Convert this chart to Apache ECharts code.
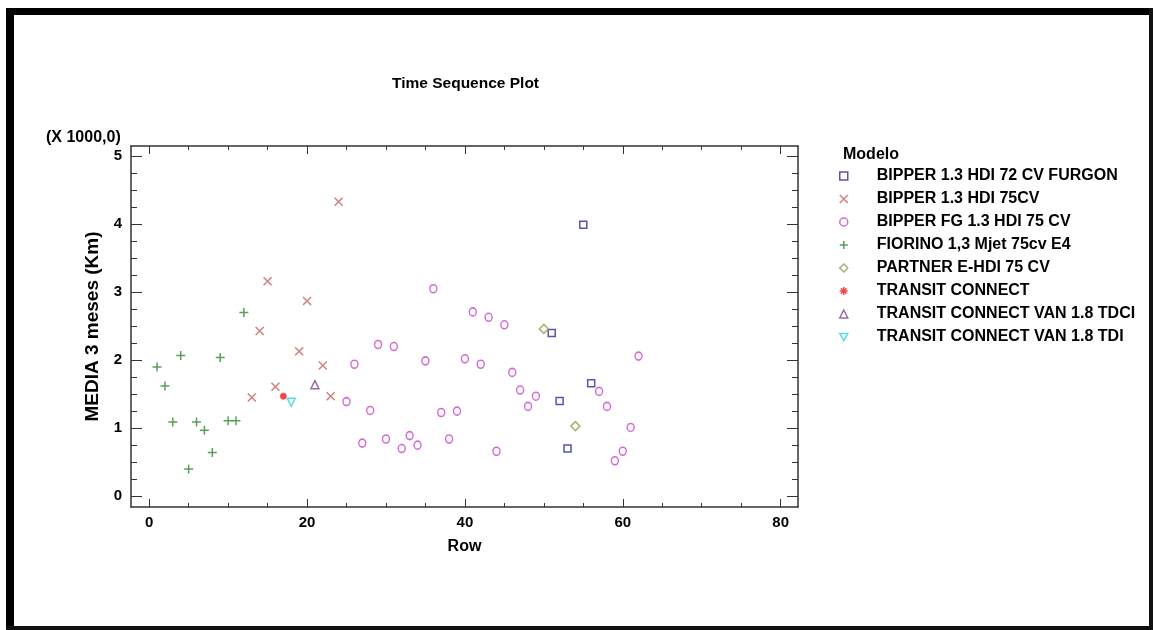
<!DOCTYPE html>
<html>
<head>
<meta charset="utf-8">
<script src="https://cdn.jsdelivr.net/npm/echarts@6/dist/echarts.min.js"></script>
<style>
html,body{margin:0;padding:0;background:#fff;}
#chart{width:1153px;height:630px;}
</style>
</head>
<body>
<div id="chart"></div>
<script>
// ---- data (values in thousands of km, as the axis shows "(X 1000,0)") ----
const seriesNames = [
  'BIPPER 1.3 HDI 72 CV FURGON',
  'BIPPER 1.3 HDI 75CV',
  'BIPPER FG 1.3 HDI 75 CV',
  'FIORINO 1,3 Mjet 75cv E4',
  'PARTNER E-HDI 75 CV',
  'TRANSIT CONNECT',
  'TRANSIT CONNECT VAN 1.8 TDCI',
  'TRANSIT CONNECT VAN 1.8 TDI'
];
const furgonRows = [51, 52, 53, 55, 56];
const furgonVals = [2.40, 1.40, 0.70, 3.99, 1.66];
const bipper75Rows = [13, 14, 15, 16, 19, 20, 22, 23, 24];
const bipper75Vals = [1.45, 2.43, 3.16, 1.61, 2.13, 2.87, 1.92, 1.47, 4.33];
const fgRows = [25, 26, 27, 28, 29, 30, 31, 32, 33, 34, 35, 36, 37, 38, 39, 40, 41, 42, 43, 44, 45, 46, 47, 48, 49, 57, 58, 59, 60, 61, 62];
const fgVals = [1.39, 1.94, 0.78, 1.26, 2.23, 0.84, 2.20, 0.70, 0.89, 0.75, 1.99, 3.05, 1.23, 0.84, 1.25, 2.02, 2.71, 1.94, 2.63, 0.66, 2.52, 1.82, 1.56, 1.32, 1.47, 1.54, 1.32, 0.52, 0.66, 1.01, 2.06];
const fiorinoRows = [1, 2, 3, 4, 5, 6, 7, 8, 9, 10, 11, 12];
const fiorinoVals = [1.90, 1.62, 1.09, 2.07, 0.40, 1.09, 0.97, 0.64, 2.04, 1.11, 1.11, 2.70];
const partnerRows = [50, 54];
const partnerVals = [2.46, 1.03];
const transitRows = [17];
const transitVals = [1.47];
const tdciRows = [21];
const tdciVals = [1.64];
const tdiRows = [18];
const tdiVals = [1.38];

const xMajorTicks = [0, 20, 40, 60, 80];
const xMinorTicks = [5, 10, 15, 25, 30, 35, 45, 50, 55, 65, 70, 75];
const yMajorTicks = [0, 1, 2, 3, 4, 5];
const yMinorTicks = [0.25, 0.5, 0.75, 1.25, 1.5, 1.75, 2.25, 2.5, 2.75, 3.25, 3.5, 3.75, 4.25, 4.5, 4.75];

// ---- styling ----
const FONT = '"Liberation Sans", Arial, sans-serif';
const AX = '#333';
function pts(rows, vals) { return rows.map((r, i) => [r, vals[i]]); }

const styles = [
  { data: pts(furgonRows, furgonVals), symbol: 'rect', size: 7, color: '#2b2ba3' },
  { data: pts(bipper75Rows, bipper75Vals), symbol: 'path://M0,0L10,10M10,0L0,10', size: 8, color: '#c4605f' },
  { data: pts(fgRows, fgVals), symbol: 'circle', size: [7, 8], color: '#c945c9' },
  { data: pts(fiorinoRows, fiorinoVals), symbol: 'path://M5,0L5,10M0,5L10,5', size: 9, color: '#2f872f' },
  { data: pts(partnerRows, partnerVals), symbol: 'diamond', size: 9, color: '#9a9a58' },
  { data: pts(transitRows, transitVals), symbol: 'path://M5,0L5,10M0,5L10,5M1.5,1.5L8.5,8.5M8.5,1.5L1.5,8.5', size: 7, color: '#f01818', bw: 2 },
  { data: pts(tdciRows, tdciVals), symbol: 'triangle', size: 8, color: '#7d4690' },
  { data: pts(tdiRows, tdiVals), symbol: 'path://M0,0L10,0L5,9Z', size: 8, color: '#35d3d8' }
];

const series = styles.map((s, i) => ({
  name: seriesNames[i],
  type: 'scatter',
  xAxisIndex: 0,
  yAxisIndex: 0,
  data: s.data,
  symbol: s.symbol,
  symbolSize: s.size,
  itemStyle: { color: 'rgba(255,255,255,0)', borderColor: s.color, borderWidth: s.bw || 1.5 },
  emphasis: { disabled: true },
  animation: false
}));

const XMIN = -2.3, XMAX = 82.2, YMIN = -0.16, YMAX = 5.15;

function xAx(pos, ticks, len, withLine, withLabel) {
  return {
    type: 'value', position: pos, min: XMIN, max: XMAX, gridIndex: 0,
    axisLine: { show: withLine, onZero: false, lineStyle: { color: AX, width: 1.5 } },
    axisTick: { show: true, inside: true, length: len, customValues: ticks, lineStyle: { color: AX, width: 1 } },
    axisLabel: withLabel ? { show: true, customValues: xMajorTicks, margin: 8, color: '#000', fontFamily: FONT, fontWeight: 'bold', fontSize: 15 } : { show: false },
    splitLine: { show: false }
  };
}
function yAx(pos, ticks, len, withLine, withLabel) {
  return {
    type: 'value', position: pos, min: YMIN, max: YMAX, gridIndex: 0,
    axisLine: { show: withLine, onZero: false, lineStyle: { color: AX, width: 1.5 } },
    axisTick: { show: true, inside: true, length: len, customValues: ticks, lineStyle: { color: AX, width: 1 } },
    axisLabel: withLabel ? { show: true, customValues: yMajorTicks, margin: 9, color: '#000', fontFamily: FONT, fontWeight: 'bold', fontSize: 15 } : { show: false },
    splitLine: { show: false }
  };
}

const xAxes = [
  Object.assign(xAx('bottom', xMajorTicks, 8, true, true), {
    name: 'Row', nameLocation: 'middle', nameGap: 32,
    nameTextStyle: { color: '#000', fontFamily: FONT, fontWeight: 'bold', fontSize: 16 }
  }),
  xAx('bottom', xMinorTicks, 4, false, false),
  xAx('top', xMajorTicks, 8, true, false),
  xAx('top', xMinorTicks, 4, false, false)
];
const yAxes = [
  Object.assign(yAx('left', yMajorTicks, 11, true, true), {
    name: 'MEDIA 3 meses (Km)', nameLocation: 'middle', nameGap: 28,
    nameTextStyle: { color: '#000', fontFamily: FONT, fontWeight: 'bold', fontSize: 19 }
  }),
  yAx('left', yMinorTicks, 6, false, false),
  yAx('right', yMajorTicks, 11, true, false),
  yAx('right', yMinorTicks, 6, false, false)
];

const chart = echarts.init(document.getElementById('chart'));
chart.setOption({
  backgroundColor: '#fff',
  animation: false,
  title: {
    text: 'Time Sequence Plot', left: 387, top: 71,
    textStyle: { color: '#000', fontFamily: FONT, fontWeight: 'bold', fontSize: 15.5 }
  },
  grid: { left: 131, top: 146, width: 667, height: 361, containLabel: false },
  xAxis: xAxes,
  yAxis: yAxes,
  legend: {
    orient: 'vertical', left: 834, top: 163,
    itemWidth: 8, itemHeight: 8, itemGap: 7,
    data: seriesNames,
    selectedMode: false,
    itemStyle: { borderWidth: 1.5 },
    textStyle: { color: '#000', fontFamily: FONT, fontWeight: 'bold', fontSize: 16, padding: [0, 0, 0, 24] }
  },
  graphic: [
    { type: 'rect', shape: { x: 6, y: 8, width: 1147, height: 7 }, style: { fill: '#000' } },
    { type: 'rect', shape: { x: 6, y: 8, width: 8, height: 622 }, style: { fill: '#000' } },
    { type: 'rect', shape: { x: 1149, y: 8, width: 4, height: 622 }, style: { fill: '#111' } },
    { type: 'rect', shape: { x: 6, y: 626, width: 1147, height: 4 }, style: { fill: '#111' } },
    { type: 'text', left: 46, top: 130, style: { text: '(X 1000,0)', fill: '#000', font: 'bold 16px ' + FONT } },
    { type: 'text', left: 843, top: 147, style: { text: 'Modelo', fill: '#000', font: 'bold 16px ' + FONT } }
  ],
  series: series
});
</script>
</body>
</html>
